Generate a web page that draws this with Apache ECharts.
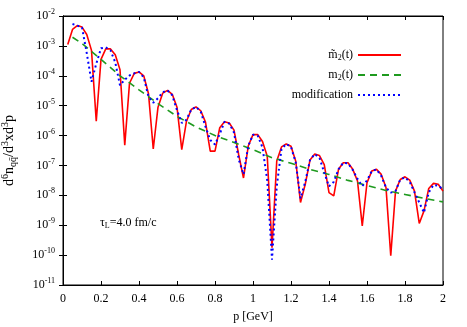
<!DOCTYPE html>
<html>
<head>
<meta charset="utf-8">
<script src="https://cdn.jsdelivr.net/npm/echarts@6/dist/echarts.min.js"></script>
<style>
  html, body { margin: 0; padding: 0; background: #fff; }
  #chart { width: 467px; height: 327px; }
</style>
</head>
<body>
<div id="chart"></div>
<script>
// p values [GeV] sampled by the curves
const pRed = [0.025, 0.05, 0.075, 0.1, 0.125, 0.15, 0.175, 0.2, 0.225, 0.25, 0.275, 0.3, 0.325, 0.35, 0.375, 0.4,
  0.425, 0.45, 0.475, 0.5, 0.525, 0.55, 0.575, 0.6, 0.625, 0.65, 0.675, 0.7, 0.725, 0.75, 0.775, 0.8,
  0.825, 0.85, 0.875, 0.9, 0.925, 0.95, 0.975, 1.0, 1.025, 1.05, 1.075, 1.1, 1.125, 1.15, 1.175, 1.2,
  1.225, 1.25, 1.275, 1.3, 1.325, 1.35, 1.375, 1.4, 1.425, 1.45, 1.475, 1.5, 1.525, 1.55, 1.575, 1.6,
  1.625, 1.65, 1.675, 1.7, 1.725, 1.75, 1.775, 1.8, 1.825, 1.85, 1.875, 1.9, 1.925, 1.95, 1.975, 2.0];

// log10 of m~2(t)
const redLog = [-2.95, -2.45, -2.32, -2.37, -2.62, -3.15, -5.52, -3.45, -3.10, -3.10, -3.30, -3.80, -6.32, -4.25, -3.92, -3.87,
  -4.00, -4.60, -6.45, -5.05, -4.58, -4.49, -4.62, -5.05, -6.47, -5.52, -5.13, -5.04, -5.17, -5.55, -6.52, -6.52,
  -5.74, -5.54, -5.58, -5.82, -6.65, -7.42, -6.35, -5.97, -5.97, -6.20, -6.69, -9.75, -6.85, -6.38, -6.28, -6.36,
  -6.86, -8.24, -7.63, -6.82, -6.62, -6.67, -6.97, -7.91, -8.02, -7.13, -6.91, -6.91, -7.13, -7.52, -9.02, -7.58,
  -7.19, -7.13, -7.30, -7.74, -10.02, -7.86, -7.47, -7.38, -7.49, -7.86, -8.94, -8.52, -7.77, -7.60, -7.63, -7.86];

// log10 of the modification curve
const pBlue = pRed.slice(1);
const blueLog = [-2.27, -2.32, -2.38, -3.24, -4.20, -3.60, -3.08, -3.05, -3.15, -3.55, -4.32, -4.13, -3.99, -3.92, -3.87,
  -4.05, -4.70, -4.90, -4.75, -4.55, -4.49, -4.65, -5.15, -5.58, -5.47, -5.13, -5.04, -5.20, -5.70, -6.15, -6.30,
  -5.95, -5.54, -5.60, -5.90, -6.80, -7.30, -6.35, -5.97, -6.00, -6.40, -7.50, -10.15, -7.70, -6.45, -6.28, -6.38,
  -6.90, -8.10, -7.55, -6.82, -6.62, -6.75, -7.24, -7.70, -7.55, -7.13, -6.91, -6.93, -7.15, -7.45, -7.69, -7.50,
  -7.19, -7.13, -7.35, -7.74, -7.91, -7.86, -7.47, -7.40, -7.55, -7.90, -8.24, -8.58, -7.90, -7.65, -7.68, -7.80];

// log10 of m2(t)
const pGreen = [0.05, 0.1, 0.2, 0.3, 0.4, 0.5, 0.6, 0.7, 0.8, 0.9, 1.0, 1.1, 1.2, 1.3, 1.4, 1.5, 1.6, 1.7, 1.8, 1.9, 2.0];
const greenLog = [-2.71, -2.92, -3.45, -4.00, -4.47, -4.93, -5.36, -5.71, -6.00, -6.23, -6.47, -6.74, -6.93, -7.13,
  -7.30, -7.50, -7.67, -7.84, -7.97, -8.10, -8.22];

const xTicks = [0, 0.2, 0.4, 0.6, 0.8, 1, 1.2, 1.4, 1.6, 1.8, 2];

const serif = "Liberation Serif";

function pairs(xs, logs) {
  return xs.map((x, i) => [x, Math.pow(10, logs[i])]);
}

const chart = echarts.init(document.getElementById("chart"), null, { renderer: "canvas" });

const richText = {
  b: { fontFamily: serif, fontSize: 12, color: "#000" },
  s: { fontFamily: serif, fontSize: 8, color: "#000", padding: [0, 0, 8, 0] },
  d: { fontFamily: serif, fontSize: 8, color: "#000", padding: [6, 0, 0, 0] },
};

// a bit larger for the y axis title
const richName = {
  b: { fontFamily: serif, fontSize: 14, color: "#000" },
  s: { fontFamily: serif, fontSize: 10, color: "#000", padding: [0, 0, 9, 0] },
  d: { fontFamily: serif, fontSize: 10, color: "#000", padding: [7, 0, 0, 0] },
};

const legendNames = {
  "m̃2(t)": "{b|m̃}{d|2}{b|(t)}",
  "m2(t)": "{b|m}{d|2}{b|(t)}",
  "modification": "{b|modification}",
};

chart.setOption({
  animation: false,
  backgroundColor: "#fff",
  grid: {
    left: 63, right: 24, top: 16, bottom: 42, show: true, borderColor: "#000", borderWidth: 1,
    outerBoundsMode: "none", containLabel: false,
  },
  legend: {
    orient: "vertical",
    right: 60,
    top: 44,
    align: "right",
    itemWidth: 43,
    itemHeight: 12,
    itemGap: 7,
    itemStyle: { opacity: 0 },
    formatter: (n) => legendNames[n],
    textStyle: { fontFamily: serif, fontSize: 12, color: "#000", rich: richText },
    data: ["m̃2(t)", "m2(t)", "modification"],
  },
  xAxis: [
    {
      type: "value", min: 0, max: 2, interval: 0.2,
      name: "p [GeV]", nameLocation: "middle", nameGap: 26,
      nameTextStyle: { fontFamily: serif, fontSize: 12, color: "#000" },
      axisLine: { lineStyle: { color: "#000" } },
      axisTick: { inside: true, length: 4, lineStyle: { color: "#000" } },
      axisLabel: { fontFamily: serif, fontSize: 12, color: "#000", margin: 8,
        formatter: (v) => (xTicks.indexOf(Math.round(v * 10) / 10) >= 0 ? String(Math.round(v * 10) / 10) : "") },
      splitLine: { show: false },
    },
    {
      type: "value", min: 0, max: 2, interval: 0.2, position: "top",
      axisLine: { lineStyle: { color: "#000" } },
      axisTick: { inside: true, length: 4, lineStyle: { color: "#000" } },
      axisLabel: { show: false }, splitLine: { show: false },
    },
  ],
  yAxis: [
    {
      type: "log", logBase: 10, min: 1e-11, max: 1e-2,
      name: "{b|d}{s|6}{b|n}{d|qq̄}{b|/d}{s|3}{b|xd}{s|3}{b|p}",
      nameLocation: "middle", nameGap: 44, nameRotate: 90,
      nameTextStyle: { fontFamily: serif, fontSize: 14, color: "#000", rich: richName },
      axisLine: { lineStyle: { color: "#000" } },
      axisTick: { inside: true, length: 4, lineStyle: { color: "#000" } },
      minorTick: { show: false },
      axisLabel: {
        margin: 8,
        formatter: (v) => "{b|10}{s|" + Math.round(Math.log10(v)) + "}",
        rich: richText,
      },
      splitLine: { show: false },
    },
    {
      type: "log", logBase: 10, min: 1e-11, max: 1e-2, position: "right",
      axisLine: { lineStyle: { color: "#000" } },
      axisTick: { inside: true, length: 4, lineStyle: { color: "#000" } },
      axisLabel: { show: false }, splitLine: { show: false },
    },
  ],
  graphic: [
    {
      type: "text", left: 100, top: 217,
      style: {
        text: "{b|τ}{d|L}{b|=4.0 fm/c}",
        rich: richText,
      },
    },
  ],
  series: [
    {
      name: "m̃2(t)", type: "line", showSymbol: false, symbol: "none",
      data: pairs(pRed, redLog),
      lineStyle: { color: "#ff0000", width: 1.6 }, itemStyle: { color: "#ff0000" },
      z: 3,
    },
    {
      name: "m2(t)", type: "line", showSymbol: false, symbol: "none",
      data: pairs(pGreen, greenLog),
      lineStyle: { color: "#1f9a1f", width: 1.6, type: [7, 5] }, itemStyle: { color: "#1f9a1f" },
      z: 4,
    },
    {
      name: "modification", type: "line", showSymbol: false, symbol: "none",
      data: pairs(pBlue, blueLog),
      lineStyle: { color: "#0000ff", width: 2, type: [2, 3] }, itemStyle: { color: "#0000ff" },
      z: 5,
    },
  ],
});
</script>
</body>
</html>
